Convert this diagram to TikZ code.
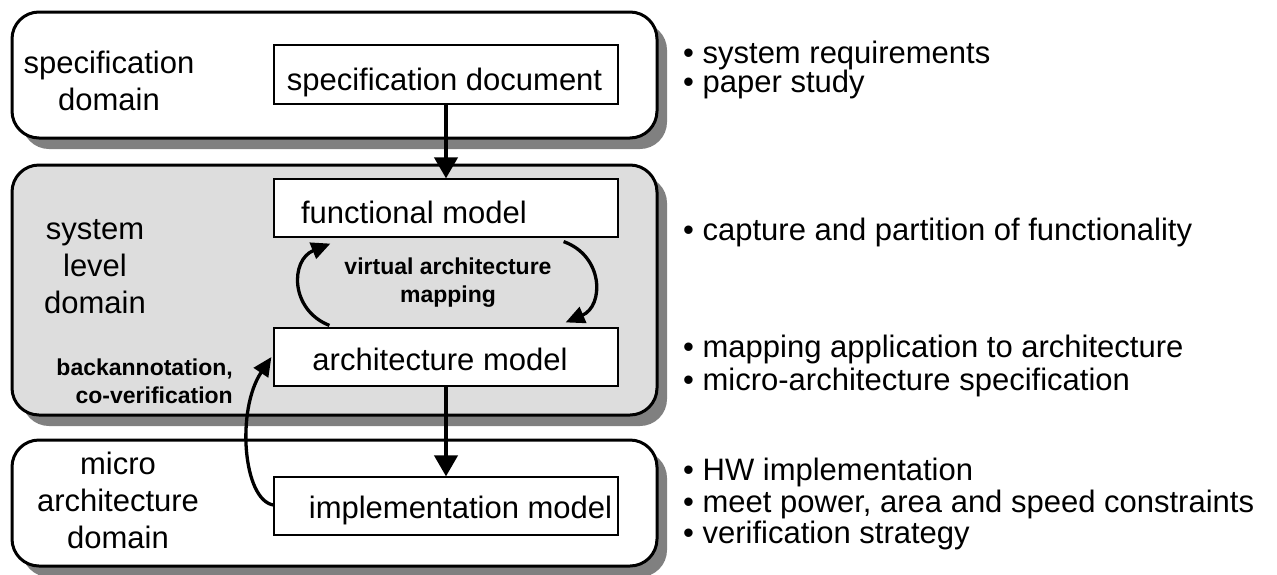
\documentclass[tikz,border=0pt]{standalone}
\usepackage{fontspec}
\setmainfont{Liberation Sans}
\usetikzlibrary{arrows.meta,shadows}
\definecolor{panelgray}{RGB}{221,221,221}
\definecolor{shadowgray}{RGB}{128,128,128}

\begin{document}
\begin{tikzpicture}[x=1pt,y=-1pt,
  domainbox/.style={draw, line width=3pt, rounded corners=27pt, inner sep=0pt,
    minimum width=645pt,
    drop shadow={shadow xshift=10pt, shadow yshift=-11pt, fill=shadowgray, opacity=1}},
  modelbox/.style={draw, line width=1.2pt, fill=white, inner sep=0pt,
    minimum width=344pt, minimum height=58pt},
  plain/.style={inner sep=0pt, font=\fontsize{31pt}{37pt}\selectfont},
  domlabel/.style={plain, align=center, anchor=base},
  bullets/.style={plain, anchor=base west},
  boldlabel/.style={inner sep=0pt, font=\fontsize{23pt}{27.5pt}\selectfont\bfseries, anchor=base},
  flowarrow/.style={line width=4pt, -{Triangle[length=21pt,width=23pt]}},
  looparrow/.style={line width=3.3pt, -{Triangle[length=19pt,width=17pt]}}
]
\useasboundingbox (0,0) rectangle (1277,574);

% domain panels
\node[domainbox, fill=white, minimum height=126pt] (specdom) at (334.5,75) {};
\node[domainbox, fill=panelgray, minimum height=250pt] (sysdom) at (334.5,290) {};
\node[domainbox, fill=white, minimum height=126pt] (microdom) at (334.5,503) {};

% domain names (anchored at the baseline of their last line)
\node[domlabel] (specname) at (109,110) {specification\\domain};
\node[domlabel] (sysname) at (95,313) {system\\level\\domain};
\node[domlabel] (microname) at (118,548) {micro\\architecture\\domain};

% model boxes
\node[modelbox, minimum height=59pt] (spec) at (446,74.5) {};
\node[modelbox] (fm) at (446,208) {};
\node[modelbox] (am) at (446,357) {};
\node[modelbox] (im) at (446,506) {};

\node[plain, anchor=base] (spectext) at (444.5,90) {specification document};
\node[plain, anchor=base] (fmtext) at (414,223) {functional model};
\node[plain, anchor=base] (amtext) at (440,370) {architecture model};
\node[plain, anchor=base] (imtext) at (460.5,518) {implementation model};

% refinement flow
\draw[flowarrow] (spec.south) -- (fm.north);
\draw[flowarrow] (am.south) -- (im.north);

% mapping loop
\draw[looparrow] ([xshift=56pt,yshift=2pt]am.north west)
  .. controls (290,310) and (290,260) .. ([xshift=57pt,yshift=-6pt]fm.south west);
\draw[looparrow] ([xshift=-55pt,yshift=-4pt]fm.south east)
  .. controls (604,256) and (604,306) .. ([xshift=-53pt,yshift=5pt]am.north east);
\node[boldlabel, align=center] (maplabel) at (448,302) {virtual architecture\\mapping};

% backannotation
\draw[looparrow] ([yshift=1pt]im.west)
  .. controls (243,500) and (236,410) .. ([xshift=-2pt]am.west);
\node[boldlabel, align=right, anchor=base east] (backlabel) at (233,403) {backannotation,\\co-verification};

% activities per domain
\node[bullets] (b1) at (683,63) {• system requirements};
\node[bullets] (b2) at (683,92) {• paper study};
\node[bullets] (b3) at (683,240) {• capture and partition of functionality};
\node[bullets] (b4) at (683,357) {• mapping application to architecture};
\node[bullets] (b5) at (683,390) {• micro-architecture specification};
\node[bullets] (b6) at (683,480) {• HW implementation};
\node[bullets] (b7) at (683,512) {• meet power, area and speed constraints};
\node[bullets] (b8) at (683,543) {• verification strategy};
\end{tikzpicture}
\end{document}
